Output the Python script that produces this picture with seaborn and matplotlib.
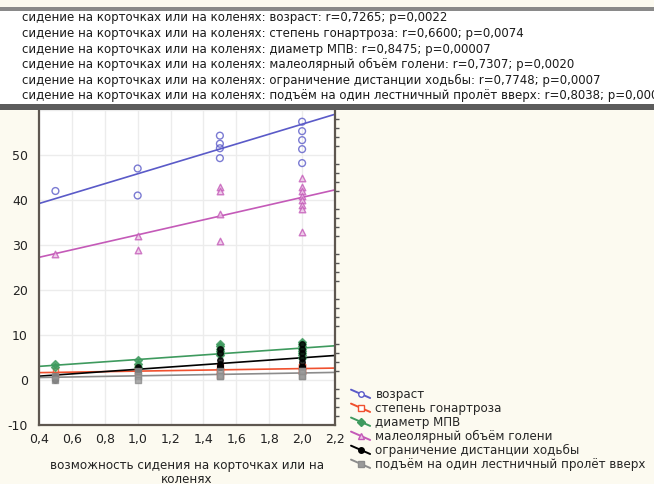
import numpy as np
import pandas as pd
import matplotlib
matplotlib.use("Agg")
import matplotlib.pyplot as plt
import seaborn as sns
from matplotlib.lines import Line2D
from matplotlib.legend_handler import HandlerLine2D
from matplotlib.patches import Rectangle
from matplotlib.ticker import MultipleLocator, FuncFormatter

# ---- data ---------------------------------------------------------------
x_label = "возможность сидения на корточках или на\nколенях"

series_names = [
    "возраст",
    "степень гонартроза",
    "диаметр МПВ",
    "малеолярный объём голени",
    "ограничение дистанции ходьбы",
    "подъём на один лестничный пролёт вверх",
]
r_values = ["0,7265", "0,6600", "0,8475", "0,7307", "0,7748", "0,8038"]
p_values = ["0,0022", "0,0074", "0,00007", "0,0020", "0,0007", "0,0003"]

x_age = [0.5, 1.0, 1.0, 1.5, 1.5, 1.5, 1.5, 2.0, 2.0, 2.0, 2.0, 2.0, 2.0, 2.0, 2.0]
y_age = [42, 47, 41, 54.3, 52.5, 51.5, 49.3, 57.4, 55.3, 53.3, 51.3, 48.2, 61, 63, 65]

x_gon = [0.5, 0.5, 1.0, 1.0, 1.0, 1.5, 1.5, 1.5, 1.5, 2.0, 2.0, 2.0, 2.0, 2.0]
y_gon = [2, 1, 3, 2, 2, 3, 2, 2, 1, 3, 3, 2, 2, 3]

x_mpv = [0.5, 0.5, 1.0, 1.0, 1.0, 1.5, 1.5, 1.5, 1.5, 1.5, 1.5, 2.0, 2.0, 2.0, 2.0, 2.0, 2.0, 2.0, 2.0]
y_mpv = [3.5, 3, 4.5, 3.5, 3, 8, 7.5, 7, 6.5, 6, 5.5, 8.5, 8, 7.5, 7, 6.5, 6, 5.5, 5]

x_mal = [0.5, 1.0, 1.0, 1.5, 1.5, 1.5, 1.5, 2.0, 2.0, 2.0, 2.0, 2.0, 2.0, 2.0, 2.0]
y_mal = [28, 32, 29, 43, 42, 37, 31, 45, 43, 42, 41, 40, 39, 38, 33]

x_walk = [0.5, 0.5, 1.0, 1.0, 1.0, 1.0, 1.5, 1.5, 1.5, 1.5, 1.5, 1.5, 1.5, 1.5,
          2.0, 2.0, 2.0, 2.0, 2.0, 2.0, 2.0, 2.0, 2.0]
y_walk = [1, 0, 3, 2.5, 2, 2, 7, 6, 4.5, 3.5, 3, 3, 3, 3,
          8, 7, 6, 5, 4, 3, 3, 3, 3]

x_stairs = [0.5, 0.5, 1.0, 1.0, 1.0, 1.5, 1.5, 1.5, 2.0, 2.0, 2.0, 2.0]
y_stairs = [0, 1, 1, 0, 2, 1, 2, 1, 1, 2, 1, 2]

xs = [x_age, x_gon, x_mpv, x_mal, x_walk, x_stairs]
ys = [y_age, y_gon, y_mpv, y_mal, y_walk, y_stairs]

colors = ["#5a5ac8", "#f0502e", "#3e9a5e", "#c45ab8", "#000000", "#8c8c8c"]
markers = ["o", "s", "D", "^", "o", "s"]
face = ["none", "none", "#3e9a5e", "#ecc4e6", "#000000", "#9a9a9a"]
sizes = [24, 16, 16, 22, 16, 16]

frames = [pd.DataFrame({"x": a, "y": b, "series": n}) for a, b, n in zip(xs, ys, series_names)]
df = pd.concat(frames, ignore_index=True)

# ---- figure -------------------------------------------------------------
sns.set_theme(style="white")
plt.rcParams["font.family"] = ["DejaVu Sans"]

W, H = 654, 484
fig = plt.figure(figsize=(W / 100, H / 100), dpi=100)
fig.patch.set_facecolor("#fcfaf0")

# header band with correlation summaries
fig.add_artist(Rectangle((0, 1 - 104 / H), 1, 96 / H, transform=fig.transFigure,
                         facecolor="white", edgecolor="none", zorder=0))
fig.add_artist(Rectangle((0, 1 - 11 / H), 1, 4 / H, transform=fig.transFigure,
                         facecolor="#8a8a8a", edgecolor="none", zorder=5))
fig.add_artist(Rectangle((0, 1 - 110 / H), 1, 6 / H, transform=fig.transFigure,
                         facecolor="#5c5c5c", edgecolor="none", zorder=5))
for i, (n, r, p) in enumerate(zip(series_names, r_values, p_values)):
    fig.text(22 / W, 1 - (18 + 15.6 * i) / H,
             f"сидение на корточках или на коленях: {n}: r={r}; p={p}",
             fontsize=8.5, color="#1a1a1a", va="center", ha="left")

ax = fig.add_axes([39 / W, 1 - 425 / H, 296 / W, 315 / H])
ax.set_facecolor("white")
ax.set_xlim(0.4, 2.2)
ax.set_ylim(-10, 60)

for i, name in enumerate(series_names):
    sub = df[df["series"] == name]
    sns.regplot(data=sub, x="x", y="y", ax=ax, ci=None, truncate=False,
                marker=markers[i], color=colors[i],
                scatter_kws=dict(s=sizes[i], facecolors=face[i], edgecolors=colors[i],
                                 linewidths=1.0, zorder=3),
                line_kws=dict(lw=1.2, zorder=2))

ax.set_xlim(0.4, 2.2)
ax.set_ylim(-10, 60)
ax.xaxis.set_major_locator(MultipleLocator(0.2))
ax.yaxis.set_major_locator(MultipleLocator(10))
ax.yaxis.set_minor_locator(MultipleLocator(2))
ax.xaxis.set_major_formatter(FuncFormatter(lambda v, _: f"{v:.1f}".replace(".", ",")))
ax.yaxis.set_major_formatter(FuncFormatter(lambda v, _: "" if v > 55 else f"{v:.0f}"))
ax.grid(True, color="#ececec", lw=1.0)
ax.set_axisbelow(True)
ax.tick_params(axis="x", which="major", labelsize=9, colors="#222222", length=0, pad=6)
ax.tick_params(axis="y", which="major", labelsize=9, colors="#222222", length=0, pad=8)
ax.tick_params(axis="y", which="minor", left=False, right=True, direction="out",
               length=3, width=1, color="#555555")
ax.set_xlabel(x_label, fontsize=8.6, color="#222222", labelpad=9, linespacing=1.15)
ax.set_ylabel("")
for side in ["left", "bottom", "right"]:
    ax.spines[side].set_color("#5e5750")
    ax.spines[side].set_linewidth(1.6)
ax.spines["top"].set_visible(False)


class DiagonalHandler(HandlerLine2D):
    def create_artists(self, legend, orig_handle, xdescent, ydescent,
                       width, height, fontsize, trans):
        ln = Line2D([-xdescent, width - xdescent], [height * 1.0, 0.0],
                    color=orig_handle.get_color(), lw=1.4)
        mk = Line2D([width / 2 - xdescent], [height / 2], ls="none",
                    marker=orig_handle.get_marker(), markersize=4,
                    markerfacecolor=orig_handle.get_markerfacecolor(),
                    markeredgecolor=orig_handle.get_color())
        ln.set_transform(trans)
        mk.set_transform(trans)
        return [ln, mk]


handles = [Line2D([], [], color=c, marker=m, markerfacecolor=f if f != "none" else "white")
           for c, m, f in zip(colors, markers, face)]
fig.legend(handles, series_names, loc="upper left",
           bbox_to_anchor=(351 / W, 1 - 388 / H), frameon=False, fontsize=8.6,
           handler_map={Line2D: DiagonalHandler()}, handlelength=1.6,
           handletextpad=0.45, labelspacing=0.08, borderaxespad=0, borderpad=0)

fig.savefig("out.png", dpi=100, facecolor=fig.get_facecolor())
